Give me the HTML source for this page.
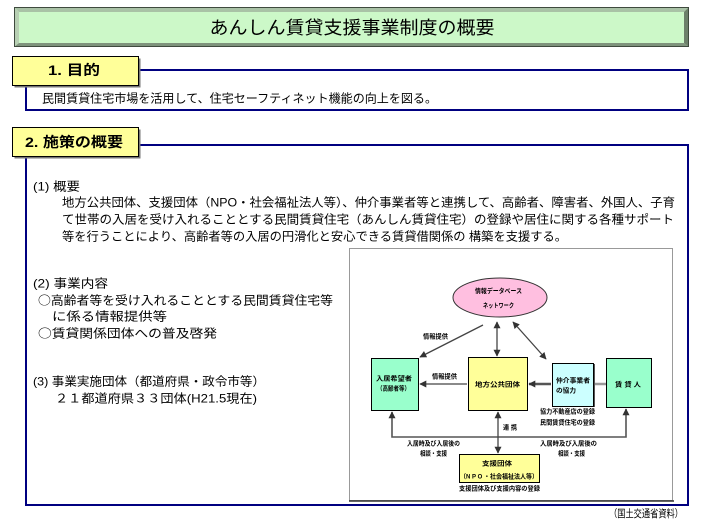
<!DOCTYPE html>
<html><head><meta charset="utf-8">
<style>
html,body{margin:0;padding:0;background:#fff;}
body{width:711px;height:528px;overflow:hidden;}
svg{display:block;}
text{font-family:"Liberation Sans","Noto Sans CJK JP",sans-serif;fill:#000;}
.m{font-size:12px;}
.d{font-size:6.5px;font-weight:bold;}
.cj{font-family:"Noto Sans CJK JP",sans-serif;}
</style></head><body>
<svg width="711" height="528" viewBox="0 0 711 528" xmlns="http://www.w3.org/2000/svg">
<defs>
<marker id="ah" viewBox="0 0 10 10" refX="9" refY="5" markerWidth="7" markerHeight="7" markerUnits="userSpaceOnUse" orient="auto-start-reverse"><path d="M0,0 L10,5 L0,10 z" fill="#333"/></marker>
</defs>
<rect width="711" height="528" fill="#fff"/>

<!-- Title bevel box -->
<rect x="14" y="7" width="675" height="40" fill="#ccf8c8"/>
<polygon points="14,7 689,7 684,12 19,12" fill="#a9c2a6"/>
<polygon points="14,7 19,12 19,43 14,47" fill="#b8d0b4"/>
<polygon points="689,7 689,47 684,43 684,12" fill="#6d806b"/>
<polygon points="14,47 689,47 684,43 19,43" fill="#7f937d"/>
<rect x="19" y="12" width="665" height="31" fill="#ccf8c8"/>
<rect x="14.5" y="7.5" width="674" height="39" fill="none" stroke="#3f4a3e" stroke-width="1"/>
<text x="352" y="34" text-anchor="middle" font-size="18" textLength="285" lengthAdjust="spacingAndGlyphs">あんしん賃貸支援事業制度の概要</text>

<!-- Section 1 -->
<rect x="26" y="70" width="662" height="40" fill="#fff" stroke="#000080" stroke-width="2"/>
<rect x="14.5" y="58.5" width="126" height="29" fill="#777"/>
<rect x="12.5" y="56.5" width="126" height="29" fill="#ffff99" stroke="#000" stroke-width="1"/>
<text x="48" y="75" font-size="14" font-weight="bold" textLength="52" lengthAdjust="spacingAndGlyphs">1. 目的</text>
<text class="m" x="42" y="102.5" textLength="395" lengthAdjust="spacingAndGlyphs">民間賃貸住宅市場を活用して、住宅セーフティネット機能の向上を図る。</text>

<!-- Section 2 -->
<rect x="26" y="145" width="662" height="360" fill="#fff" stroke="#000080" stroke-width="2"/>
<rect x="14.5" y="129.5" width="126" height="29" fill="#777"/>
<rect x="12.5" y="127.5" width="126" height="29" fill="#ffff99" stroke="#000" stroke-width="1"/>
<text x="25" y="147" font-size="14" font-weight="bold" textLength="98" lengthAdjust="spacingAndGlyphs">2. 施策の概要</text>

<text class="m" x="33" y="190.5" textLength="47" lengthAdjust="spacingAndGlyphs">(1) 概要</text>
<text class="m" x="62" y="206.5" textLength="613" lengthAdjust="spacingAndGlyphs">地方公共団体、支援団体（NPO・社会福祉法人等）、仲介事業者等と連携して、高齢者、障害者、外国人、子育</text>
<text class="m" x="62" y="223.5" textLength="612" lengthAdjust="spacingAndGlyphs">て世帯の入居を受け入れることとする民間賃貸住宅（あんしん賃貸住宅）の登録や居住に関する各種サポート</text>
<text class="m" x="62" y="240.5" textLength="505" lengthAdjust="spacingAndGlyphs">等を行うことにより、高齢者等の入居の円滑化と安心できる賃貸借関係の 構築を支援する。</text>

<text class="m" x="33" y="287.5" textLength="75" lengthAdjust="spacingAndGlyphs">(2) 事業内容</text>
<text class="m cj" x="38" y="304.5" textLength="295" lengthAdjust="spacingAndGlyphs">○高齢者等を受け入れることとする民間賃貸住宅等</text>
<text class="m" x="52" y="320.5" textLength="115" lengthAdjust="spacingAndGlyphs">に係る情報提供等</text>
<text class="m cj" x="38" y="337.5" textLength="179" lengthAdjust="spacingAndGlyphs">○賃貸関係団体への普及啓発</text>
<text class="m" x="33" y="385.5" textLength="232" lengthAdjust="spacingAndGlyphs">(3) 事業実施団体（都道府県・政令市等）</text>
<text class="m" x="55" y="402.5" textLength="202" lengthAdjust="spacingAndGlyphs">２１都道府県３３団体(H21.5現在)</text>

<!-- Diagram box -->
<rect x="349.5" y="248.5" width="323" height="252" fill="#fff" stroke="#999" stroke-width="1"/>
<line x1="349" y1="501" x2="674" y2="501" stroke="#333" stroke-width="1.5"/>

<!-- Ellipse -->
<ellipse cx="500" cy="297.5" rx="47" ry="19.5" fill="#ffbfe0" stroke="#333" stroke-width="1"/>
<text class="d" x="475" y="293" textLength="47" lengthAdjust="spacingAndGlyphs">情報データベース</text>
<text class="d" x="483" y="307.5" textLength="31" lengthAdjust="spacingAndGlyphs">ネットワーク</text>

<!-- Boxes -->
<rect x="371.5" y="358.5" width="47" height="52" fill="#99ffcc" stroke="#000" stroke-width="1"/>
<rect x="468.5" y="357.5" width="59" height="53" fill="#ffff99" stroke="#000" stroke-width="1"/>
<rect x="552.5" y="363.5" width="41" height="43" fill="#ccffff" stroke="#000" stroke-width="1"/>
<line x1="594.5" y1="364" x2="594.5" y2="407" stroke="#555" stroke-width="1"/>
<rect x="606.5" y="358.5" width="45" height="49" fill="#99ffcc" stroke="#000" stroke-width="1"/>
<rect x="459.5" y="454.5" width="80" height="28" fill="#ffff99" stroke="#000" stroke-width="1"/>

<!-- Arrows -->
<line x1="483" y1="325" x2="420" y2="357" stroke="#444" stroke-width="1.3" marker-end="url(#ah)"/>
<line x1="497" y1="322" x2="497" y2="356" stroke="#444" stroke-width="1.3" marker-start="url(#ah)" marker-end="url(#ah)"/>
<line x1="513" y1="322" x2="546" y2="359" stroke="#444" stroke-width="1.3" marker-start="url(#ah)" marker-end="url(#ah)"/>
<line x1="467" y1="384" x2="420" y2="384" stroke="#444" stroke-width="1.3" marker-end="url(#ah)"/>
<line x1="551" y1="384" x2="529" y2="384" stroke="#555" stroke-width="2.5" marker-end="url(#ah)"/>
<line x1="595" y1="384" x2="606" y2="384" stroke="#999" stroke-width="2.5"/>
<polyline points="392,412 392,437 626,437 626,409" fill="none" stroke="#555" stroke-width="1.6" marker-start="url(#ah)" marker-end="url(#ah)"/>
<line x1="498" y1="412" x2="498" y2="453" stroke="#444" stroke-width="1.3" marker-start="url(#ah)" marker-end="url(#ah)"/>

<!-- Diagram labels -->
<text class="d" x="423" y="338.5" textLength="25" lengthAdjust="spacingAndGlyphs">情報提供</text>
<text class="d" x="376" y="380.5" textLength="36" lengthAdjust="spacingAndGlyphs">入居希望者</text>
<text class="d" x="377" y="390.5" textLength="33" lengthAdjust="spacingAndGlyphs">（高齢者等）</text>
<text class="d" x="432" y="378.5" textLength="25" lengthAdjust="spacingAndGlyphs">情報提供</text>
<text class="d" x="475" y="386.5" font-size="7" textLength="45" lengthAdjust="spacingAndGlyphs">地方公共団体</text>
<text class="d" x="556" y="382.5" textLength="34" lengthAdjust="spacingAndGlyphs">仲介事業者</text>
<text class="d" x="556" y="392.5" textLength="20" lengthAdjust="spacingAndGlyphs">の協力</text>
<text class="d" x="615" y="386.5" textLength="26" lengthAdjust="spacingAndGlyphs">賃 貸 人</text>
<text class="d" x="540" y="413.5" textLength="55" lengthAdjust="spacingAndGlyphs">協力不動産店の登録</text>
<text class="d" x="540" y="424.5" textLength="55" lengthAdjust="spacingAndGlyphs">民間賃貸住宅の登録</text>
<text class="d" x="503" y="429.5" textLength="14" lengthAdjust="spacingAndGlyphs">連 携</text>
<text class="d" x="407" y="445.5" textLength="53" lengthAdjust="spacingAndGlyphs">入居時及び入居後の</text>
<text class="d" x="420" y="455.5" textLength="27" lengthAdjust="spacingAndGlyphs">相談・支援</text>
<text class="d" x="540" y="445.5" textLength="57" lengthAdjust="spacingAndGlyphs">入居時及び入居後の</text>
<text class="d" x="558" y="455.5" textLength="27" lengthAdjust="spacingAndGlyphs">相談・支援</text>
<text class="d" x="482" y="465.5" font-size="7.5" textLength="30" lengthAdjust="spacingAndGlyphs">支援団体</text>
<text class="d" x="460" y="478.5" textLength="78" lengthAdjust="spacingAndGlyphs">（N P O ・社会福祉法人等）</text>
<text class="d" x="459" y="490.5" textLength="81" lengthAdjust="spacingAndGlyphs">支援団体及び支援内容の登録</text>

<!-- Source -->
<text x="609" y="517" font-size="10.5" textLength="74" lengthAdjust="spacingAndGlyphs">（国土交通省資料）</text>
</svg>
</body></html>
